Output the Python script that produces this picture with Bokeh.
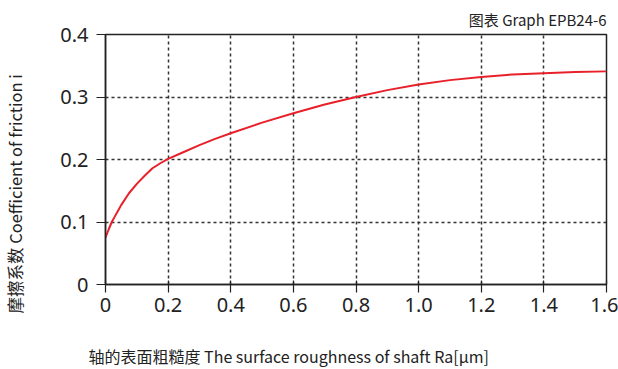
from bokeh.plotting import figure
from bokeh.models import Range1d, FixedTicker, CustomJSTickFormatter, Title
from bokeh.embed import file_html
from bokeh.resources import INLINE

# Data
ra = [0, 0.01, 0.02, 0.03, 0.04, 0.05, 0.075, 0.1, 0.125, 0.15, 0.175, 0.2, 0.25, 0.3, 0.35, 0.4,
      0.5, 0.6, 0.7, 0.8, 0.9, 1.0, 1.1, 1.2, 1.3, 1.4, 1.5, 1.6]
mu = [0.075, 0.088, 0.100, 0.109, 0.118, 0.127, 0.146, 0.161, 0.174, 0.186, 0.194, 0.201, 0.212,
      0.223, 0.233, 0.242, 0.259, 0.274, 0.288, 0.300, 0.311, 0.320, 0.327, 0.332, 0.336, 0.338,
      0.340, 0.341]

x_ticks = [0, 0.2, 0.4, 0.6, 0.8, 1.0, 1.2, 1.4, 1.6]
x_labels = ["0", "0.2", "0.4", "0.6", "0.8", "1.0", "1.2", "1.4", "1.6"]
y_ticks = [0, 0.1, 0.2, 0.3, 0.4]
y_labels = ["0", "0.1", "0.2", "0.3", "0.4"]

title_text = "图表 Graph EPB24-6"
x_title = "轴的表面粗糙度 The surface roughness of shaft  Ra[μm]"
y_title = "摩擦系数 Coefficient of friction i"

FONT = "Noto Sans CJK SC"
INK = "#222222"

p = figure(width=618, height=369, output_backend="svg", toolbar_location=None,
           x_range=Range1d(0, 1.6), y_range=Range1d(0, 0.4),
           min_border_left=105, min_border_right=12, min_border_top=34, min_border_bottom=85)
p.background_fill_color = "white"
p.border_fill_color = "white"
p.outline_line_color = INK
p.outline_line_width = 1.5

def fmt(tv, lb):
    return CustomJSTickFormatter(args=dict(tv=tv, lb=lb), code="""
        let best = 0, d = 1e9;
        for (let i = 0; i < tv.length; i++) {
            const dd = Math.abs(tv[i] - tick);
            if (dd < d) { d = dd; best = i; }
        }
        return lb[best];
    """)

p.xaxis.ticker = FixedTicker(ticks=x_ticks)
p.yaxis.ticker = FixedTicker(ticks=y_ticks)
p.xaxis.formatter = fmt(x_ticks, x_labels)
p.yaxis.formatter = fmt(y_ticks, y_labels)

for ax in (p.xaxis, p.yaxis):
    ax.axis_line_color = INK
    ax.axis_line_width = 1.5
    ax.major_tick_line_color = INK
    ax.major_tick_line_width = 1.2
    ax.minor_tick_line_color = None
    ax.major_label_text_font = "Noto Sans"
    ax.major_label_text_font_size = "20px"
    ax.major_label_text_color = INK

p.xaxis.major_tick_in = 4
p.xaxis.major_tick_out = 8
p.xaxis.major_label_standoff = 5
p.yaxis.major_tick_in = 0
p.yaxis.major_tick_out = 9
p.yaxis.major_label_standoff = 8

for g in (p.xgrid, p.ygrid):
    g.grid_line_color = "#333333"
    g.grid_line_width = 1.5
    g.grid_line_dash = "3 3"

p.line(ra, mu, line_color="#e8202a", line_width=2)

# blank spacer panels that push the axis titles outward
def spacer(size):
    return Title(text=" ", text_font_size="1px", standoff=size)

p.add_layout(spacer(26), "left")
p.add_layout(spacer(24), "below")

p.add_layout(Title(text=title_text, align="right", text_font=FONT, text_font_size="15px",
                   text_font_style="normal", text_color=INK, standoff=10), "above")
p.add_layout(Title(text=y_title, align="left", offset=-29, vertical_align="top", text_font=FONT,
                   text_font_size="16.5px", text_font_style="normal", text_color=INK,
                   standoff=0), "left")
p.add_layout(Title(text=x_title, align="left", offset=-17, vertical_align="bottom",
                   text_font=FONT, text_font_size="16px", text_font_style="normal",
                   text_color=INK, standoff=0), "below")

open("out.html", "w").write(file_html(p, INLINE))
